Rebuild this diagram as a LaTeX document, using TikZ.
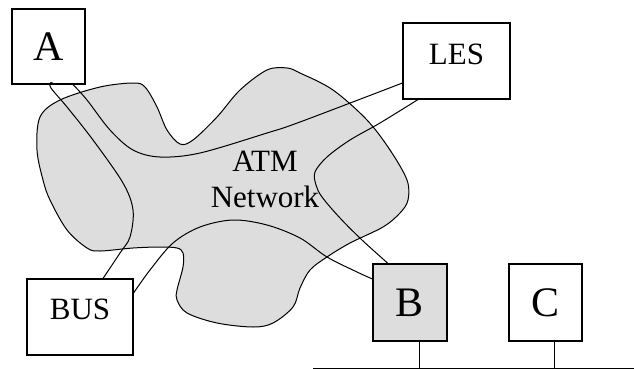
\documentclass[tikz,border=0pt]{standalone}
\usepackage{fontspec}
\setmainfont{Liberation Serif}
\definecolor{cloudgray}{HTML}{DDDDDD}

\begin{document}
\begin{tikzpicture}[x=1pt,y=-1pt,
    box/.style={draw,line width=1.1pt,fill=white,inner sep=0pt},
    bigletter/.style={box,font=\fontsize{42}{42}\selectfont},
    smalltext/.style={box,font=\fontsize{31}{36}\selectfont},
    link/.style={line width=1pt}]
    \useasboundingbox (0,0) rectangle (634,369);
%    the cloud
    \draw[link,fill=cloudgray] plot[smooth cycle,tension=0.55] coordinates {
      (37,150) (40,117) (60,100) (100,87) (133,83) (145,87) (157,107)
      (167,130) (180,144) (193,140) (217,117) (240,90) (267,70) (287,68)
      (300,73) (333,90) (367,120) (390,150) (407,180) (408,200) (400,213)
      (383,227) (350,243) (327,257) (310,270) (300,288) (293,307) (273,323)
      (253,327) (217,323) (187,313) (177,300) (177,290) (183,267) (183,253)
      (177,248) (160,247) (133,248) (100,251) (87,248) (67,230) (50,200)
      (43,180)};
    \node[font=\fontsize{31}{36}\selectfont,align=center,inner sep=0pt] (atm) at (265,179) {ATM\\Network};

    \node[bigletter,minimum width=73pt,minimum height=75pt] (hostA) at (48.5,46.5) {A};
    \node[smalltext,minimum width=107pt,text height=41pt,text depth=35pt] (les) at (456.5,61) {LES};
    \node[smalltext,minimum width=106pt,text height=40pt,text depth=36pt] (bus) at (80,317) {BUS};
    \node[bigletter,fill=cloudgray,minimum width=74pt,minimum height=77pt] (hostB) at (410,302.5) {B};
    \node[bigletter,minimum width=73pt,minimum height=77pt] (hostC) at (545.5,302.5) {C};

    \draw[link] plot[smooth,tension=0.55] coordinates {([xshift=6pt]hostA.south) (51,82.5) (51,88)
      (67,107) (93,140) (123,183) (133,210) (130,237) (120,253) ([xshift=23pt]bus.north)};
    \draw[link] plot[smooth,tension=0.55] coordinates {([xshift=24.5pt]hostA.south) (87,100) (110,130)
      (133,150) (160,157) (200,153) (267,133) (300,122) ([yshift=-22pt]les.west)};
    \draw[link] plot[smooth,tension=0.55] coordinates {([xshift=-38.5pt]les.south) (380,123) (350,140)
      (327,157) (315,172) (316,185) (322,197) (340,218) (362,240) ([xshift=-22pt]hostB.north)};
    \draw[link] plot[smooth,tension=0.55] coordinates {([yshift=24pt]bus.east) (150,270) (173,243)
      (200,227) (233,220) (267,225) (300,238) (327,257) (357,272) ([yshift=23.5pt]hostB.west)};

%    the LAN
    \coordinate (lanL) at (313,368);
    \coordinate (lanR) at (634,368);
    \draw[link] (lanL) -- (lanR);
    \draw[link] ([xshift=9pt]hostB.south) -- ([xshift=9pt]hostB.south |- lanL);
    \draw[link] ([xshift=8.5pt]hostC.south) -- ([xshift=8.5pt]hostC.south |- lanL);
\end{tikzpicture}
\end{document}
